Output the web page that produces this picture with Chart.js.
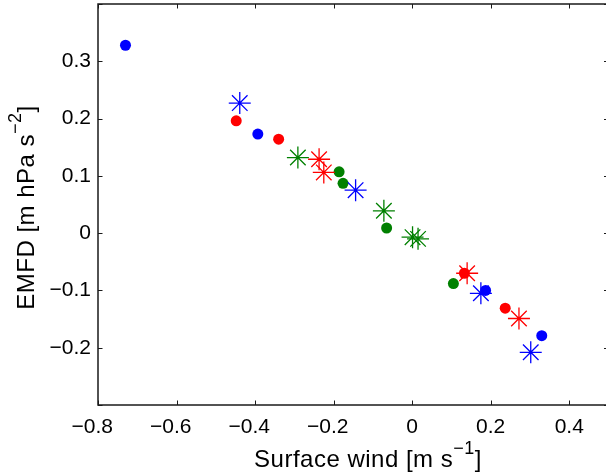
<!DOCTYPE html>
<html>
<head>
<meta charset="utf-8">
<script src="https://cdn.jsdelivr.net/npm/chart.js@4"></script>
<style>
  html, body { margin: 0; padding: 0; background: #fff; overflow: hidden; }
  #scatterChart { display: block; }
</style>
</head>
<body>
<canvas id="scatterChart" width="612" height="474"></canvas>
<script>
// Data
const blueCircleX = [-0.730, -0.393, 0.187, 0.330];
const blueCircleY = [0.328, 0.173, -0.100, -0.179];
const blueStarX = [-0.439, -0.144, 0.175, 0.302];
const blueStarY = [0.227, 0.075, -0.105, -0.208];
const redCircleX = [-0.448, -0.340, 0.133, 0.237];
const redCircleY = [0.196, 0.164, -0.070, -0.131];
const redStarX = [-0.237, -0.225, 0.140, 0.272];
const redStarY = [0.129, 0.106, -0.070, -0.149];
const greenCircleX = [-0.186, -0.176, -0.065, 0.105];
const greenCircleY = [0.107, 0.087, 0.009, -0.088];
const greenStarX = [-0.291, -0.072, 0.001, 0.015];
const greenStarY = [0.132, 0.039, -0.007, -0.010];

const xTicks = [-0.8, -0.6, -0.4, -0.2, 0, 0.2, 0.4];
const yTicks = [-0.3, -0.2, -0.1, 0, 0.1, 0.2, 0.3, 0.4];
const yTickLabels = [-0.2, -0.1, 0, 0.1, 0.2, 0.3];

const FONT = '"Liberation Sans", Arial, Helvetica, sans-serif';

function pts(xs, ys) {
  return xs.map((x, i) => ({ x: x, y: ys[i] }));
}

function circles(xs, ys, color) {
  return {
    data: pts(xs, ys),
    pointStyle: 'circle',
    pointRadius: 5.5,
    pointBackgroundColor: color,
    pointBorderWidth: 0,
    showLine: false
  };
}

function stars(xs, ys, color) {
  return {
    data: pts(xs, ys),
    pointStyle: 'star',
    pointRadius: 11,
    pointBorderColor: color,
    pointBackgroundColor: color,
    pointBorderWidth: 1.3,
    showLine: false
  };
}

function fmt(v) {
  return String(Math.round(v * 10) / 10).replace('-', '\u2212');
}

// x labels: keep the digits centred on the tick, the minus sign hangs left
function fmtX(v) {
  const s = fmt(v);
  return v < 0 ? s + '  ' : s;
}

function noPad(s) {
  s.paddingTop = 0; s.paddingBottom = 0; s.paddingLeft = 0; s.paddingRight = 0;
}

// box, inward tick marks and the axis titles (with superscripts)
const matlabAxes = {
  id: 'matlabAxes',
  afterDraw(chart) {
    const ctx = chart.ctx;
    const a = chart.chartArea;
    const xs = chart.scales.x, ys = chart.scales.y;
    ctx.save();
    ctx.strokeStyle = '#1a1a1a';
    ctx.lineWidth = 1.5;
    ctx.strokeRect(a.left, a.top, a.right - a.left, a.bottom - a.top);
    ctx.lineWidth = 1;
    ctx.beginPath();
    xTicks.forEach(v => {
      const p = Math.round(xs.getPixelForValue(v)) + 0.5;
      ctx.moveTo(p, a.bottom); ctx.lineTo(p, a.bottom - 4.5);
      ctx.moveTo(p, a.top); ctx.lineTo(p, a.top + 4.5);
    });
    yTicks.forEach(v => {
      const p = Math.round(ys.getPixelForValue(v)) + 0.5;
      ctx.moveTo(a.left, p); ctx.lineTo(a.left + 4.5, p);
      ctx.moveTo(a.right, p); ctx.lineTo(a.right - 4.5, p);
    });
    ctx.stroke();

    ctx.fillStyle = '#000';
    ctx.textBaseline = 'alphabetic';
    ctx.textAlign = 'left';
    ctx.letterSpacing = '0.5px';
    function drawSup(parts, cx, cy) {
      let w = 0;
      parts.forEach(p => { ctx.font = p.size + 'px ' + FONT; w += ctx.measureText(p.t).width; });
      let x = cx - w / 2;
      parts.forEach(p => {
        ctx.font = p.size + 'px ' + FONT;
        ctx.fillText(p.t, x, cy - p.rise);
        x += ctx.measureText(p.t).width;
      });
    }
    drawSup([
      { t: 'Surface wind [m s', size: 24, rise: 0 },
      { t: '\u22121', size: 18, rise: 13 },
      { t: ']', size: 24, rise: 0 }
    ], 368, 466.5);
    ctx.translate(34, 207.5);
    ctx.rotate(-Math.PI / 2);
    drawSup([
      { t: 'EMFD [m hPa s', size: 24, rise: 0 },
      { t: '\u22122', size: 18, rise: 13 },
      { t: ']', size: 24, rise: 0 }
    ], 0, 0);
    ctx.restore();
  }
};

new Chart(document.getElementById('scatterChart'), {
  type: 'scatter',
  data: {
    datasets: [
      circles(blueCircleX, blueCircleY, '#0000ff'),
      stars(blueStarX, blueStarY, '#0000ff'),
      circles(redCircleX, redCircleY, '#ff0000'),
      stars(redStarX, redStarY, '#ff0000'),
      circles(greenCircleX, greenCircleY, '#008000'),
      stars(greenStarX, greenStarY, '#008000')
    ]
  },
  options: {
    responsive: false,
    animation: false,
    layout: { autoPadding: false, padding: { top: 4, right: 3.5, left: 0, bottom: 0 } },
    plugins: { legend: { display: false }, tooltip: { enabled: false } },
    scales: {
      x: {
        type: 'linear',
        min: -0.8,
        max: 0.5,
        grid: { display: false, drawTicks: false },
        border: { display: false },
        afterBuildTicks: s => { s.ticks = xTicks.map(v => ({ value: v })); },
        afterFit: s => { s.height = 69; noPad(s); },
        ticks: {
          padding: 10,
          color: '#000',
          font: { family: FONT, size: 21 },
          maxRotation: 0,
          autoSkip: false,
          callback: v => fmtX(v)
        }
      },
      y: {
        type: 'linear',
        min: -0.3,
        max: 0.4,
        grid: { display: false, drawTicks: false },
        border: { display: false },
        afterBuildTicks: s => { s.ticks = yTickLabels.map(v => ({ value: v })); },
        afterFit: s => { s.width = 98; noPad(s); },
        ticks: {
          padding: 7,
          color: '#000',
          font: { family: FONT, size: 21 },
          autoSkip: false,
          callback: v => fmt(v)
        }
      }
    }
  },
  plugins: [matlabAxes]
});
</script>
</body>
</html>
